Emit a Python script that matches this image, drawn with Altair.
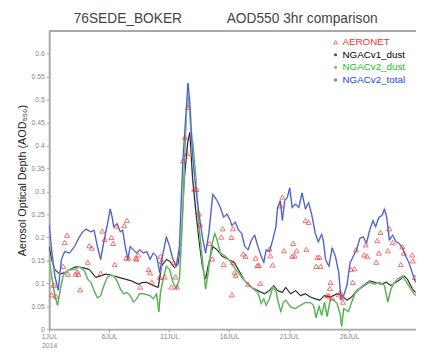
import altair as alt
import pandas as pd

# ---- data (day of July 2014, AOD at 550 nm) ----
blue_day = [1.00, 1.20, 1.47, 1.75, 2.02, 2.29, 2.70, 3.11, 3.52, 3.80, 4.07, 4.48, 4.74, 5.02, 5.29, 5.48,
            5.70, 5.92, 6.09, 6.25, 6.38, 6.66, 6.93, 7.12, 7.34, 7.56, 7.75, 8.02, 8.29, 8.56, 8.83, 9.14,
            9.41, 9.68, 9.95, 10.22, 10.44, 10.77, 11.04, 11.32, 11.59, 11.86, 12.14, 12.41, 12.57, 12.73,
            12.95, 13.22, 13.49, 13.77, 14.04, 14.31, 14.64, 15.00, 15.27, 15.54, 15.82, 16.09, 16.23, 16.52,
            16.79, 17.04, 17.31, 17.58, 17.86, 18.13, 18.40, 18.68, 18.89, 19.09, 19.36, 19.63, 19.90, 20.04,
            20.26, 20.44, 20.64, 20.85, 21.05, 21.26, 21.54, 21.81, 22.08, 22.36, 22.63, 22.90, 23.18, 23.44,
            23.71, 23.85, 24.04, 24.32, 24.59, 24.86, 25.14, 25.33, 25.55, 25.82, 26.09, 26.36, 26.63, 26.90,
            27.18, 27.45, 27.72, 28.00, 28.21, 28.49, 28.76, 28.95, 29.14, 29.36, 29.63, 29.90, 30.17, 30.45,
            30.72, 30.99, 31.27, 31.54]
blue_val = [0.228, 0.173, 0.116, 0.085, 0.152, 0.169, 0.166, 0.180, 0.201, 0.212, 0.218, 0.212, 0.216, 0.180, 0.152, 0.180,
            0.209, 0.237, 0.262, 0.244, 0.223, 0.230, 0.212, 0.216, 0.180, 0.152, 0.180, 0.173, 0.166, 0.173, 0.166, 0.169,
            0.152, 0.166, 0.159, 0.123, 0.159, 0.201, 0.180, 0.152, 0.137, 0.180, 0.365, 0.472, 0.536, 0.493,
            0.379, 0.308, 0.251, 0.201, 0.166, 0.209, 0.294, 0.280, 0.265, 0.244, 0.251, 0.237, 0.226, 0.233,
            0.216, 0.209, 0.180, 0.173, 0.194, 0.205, 0.180, 0.159, 0.145, 0.173, 0.169, 0.194, 0.223, 0.265,
            0.280, 0.237, 0.280, 0.287, 0.308, 0.265, 0.273, 0.265, 0.297, 0.262, 0.276, 0.248, 0.209, 0.190,
            0.207, 0.194, 0.152, 0.137, 0.177, 0.159, 0.123, 0.065, 0.073, 0.095, 0.145, 0.159, 0.173, 0.198,
            0.201, 0.187, 0.216, 0.237, 0.223, 0.244, 0.248, 0.262, 0.244, 0.194, 0.205, 0.191, 0.187, 0.177,
            0.159, 0.145, 0.123, 0.102]

black_day = [1.00, 1.20, 1.47, 1.88, 2.29, 2.70, 3.25, 3.80, 4.34, 4.88, 5.29, 5.70, 6.25, 6.79, 7.34, 7.88,
             8.42, 8.83, 9.14, 9.68, 10.09, 10.36, 10.77, 11.04, 11.45, 11.73, 12.00, 12.27, 12.55, 12.73,
             12.95, 13.22, 13.49, 13.77, 14.04, 14.31, 14.64, 15.00, 15.41, 15.95, 16.44, 16.76, 17.31, 17.86,
             18.40, 18.95, 19.36, 19.71, 20.04, 20.44, 20.72, 21.13, 21.54, 21.95, 22.36, 22.77, 23.18, 23.58,
             23.91, 24.45, 25.00, 25.41, 25.82, 26.22, 26.63, 27.18, 27.72, 28.13, 28.68, 29.09, 29.50, 29.90,
             30.31, 30.58, 30.86, 31.27, 31.54]
black_val = [0.180, 0.152, 0.130, 0.120, 0.123, 0.130, 0.136, 0.134, 0.130, 0.113, 0.116, 0.120, 0.117, 0.113, 0.109, 0.105,
             0.098, 0.102, 0.102, 0.095, 0.091, 0.137, 0.152, 0.148, 0.134, 0.141, 0.194, 0.330, 0.408, 0.429,
             0.330, 0.258, 0.194, 0.137, 0.109, 0.145, 0.180, 0.173, 0.159, 0.152, 0.145, 0.130, 0.105, 0.091,
             0.084, 0.077, 0.084, 0.095, 0.084, 0.080, 0.091, 0.077, 0.084, 0.073, 0.077, 0.070, 0.066, 0.063,
             0.073, 0.070, 0.077, 0.073, 0.063, 0.070, 0.084, 0.095, 0.105, 0.102, 0.098, 0.102, 0.095, 0.102,
             0.109, 0.116, 0.109, 0.088, 0.080]

green_day = [1.00, 1.20, 1.47, 1.70, 1.94, 2.16, 2.57, 3.11, 3.52, 3.93, 4.21, 4.48, 4.74, 5.02, 5.29, 5.56,
             5.84, 6.11, 6.38, 6.66, 6.93, 7.20, 7.48, 7.75, 8.02, 8.29, 8.51, 8.87, 9.41, 9.68, 9.95, 10.14,
             10.28, 10.50, 10.77, 11.04, 11.32, 11.59, 11.86, 12.08, 12.27, 12.46, 12.59, 12.81, 13.00, 13.22,
             13.49, 13.77, 14.04, 14.26, 14.53, 14.80, 15.00, 15.27, 15.68, 16.09, 16.44, 16.76, 17.17, 17.58,
             17.99, 18.40, 18.68, 18.89, 19.09, 19.36, 19.63, 19.90, 20.09, 20.31, 20.53, 20.72, 21.13, 21.54,
             21.95, 22.36, 22.77, 23.04, 23.25, 23.50, 23.72, 23.95, 24.17, 24.45, 24.73, 25.00, 25.27, 25.38,
             25.55, 25.95, 26.22, 26.49, 26.90, 27.31, 27.72, 28.13, 28.54, 28.95, 29.23, 29.50, 29.77, 30.04,
             30.45, 30.72, 31.13, 31.54]
green_val = [0.152, 0.116, 0.073, 0.052, 0.088, 0.116, 0.129, 0.130, 0.136, 0.127, 0.109, 0.102, 0.084, 0.068, 0.073, 0.095,
             0.113, 0.117, 0.116, 0.105, 0.088, 0.077, 0.080, 0.073, 0.059, 0.066, 0.077, 0.077, 0.073, 0.066, 0.077, 0.038,
             0.080, 0.109, 0.137, 0.130, 0.102, 0.088, 0.109, 0.223, 0.365, 0.479, 0.515, 0.436, 0.400, 0.330,
             0.223, 0.152, 0.088, 0.123, 0.180, 0.209, 0.194, 0.166, 0.159, 0.148, 0.134, 0.123, 0.109, 0.098,
             0.088, 0.080, 0.056, 0.066, 0.052, 0.066, 0.091, 0.084, 0.059, 0.038, 0.059, 0.063, 0.048, 0.045,
             0.052, 0.058, 0.058, 0.052, 0.025, 0.050, 0.030, 0.058, 0.028, 0.066, 0.063, 0.056, 0.031, 0.006,
             0.045, 0.038, 0.059, 0.077, 0.088, 0.095, 0.102, 0.098, 0.102, 0.095, 0.059, 0.088, 0.102, 0.109,
             0.116, 0.105, 0.088, 0.073]

aeronet_day = [1.20, 1.39, 1.56, 2.16, 2.29, 2.49, 2.57, 3.19, 3.33, 3.44, 3.58, 4.21, 4.34, 4.56, 5.29, 5.43,
               5.62, 6.19, 6.33, 6.46, 6.60, 7.26, 7.48, 7.42, 7.61, 8.21, 8.42, 8.29, 8.59, 9.27, 9.41, 9.54,
               10.28, 10.36, 10.22, 10.63, 11.18, 11.37, 11.53, 11.65, 12.14, 12.32, 12.49, 12.59, 13.09, 13.28,
               13.49, 13.58, 14.37, 14.59, 15.35, 15.46, 15.54, 16.23, 16.44, 16.31, 16.20, 16.36, 16.55, 17.17,
               17.37, 17.58, 18.21, 18.35, 18.48, 18.60, 19.36, 19.44, 19.63, 20.26, 20.44, 20.58, 21.26, 21.34,
               21.46, 21.62, 22.36, 22.44, 22.63, 23.26, 23.36, 23.53, 23.63, 24.18, 24.32, 24.40, 24.45, 24.59,
               25.14, 25.27, 25.41, 25.49, 26.17, 26.31, 26.45, 26.58, 27.26, 27.39, 27.51, 28.27, 28.35, 28.49,
               28.62, 29.23, 29.36, 29.63, 30.31, 30.45, 30.58, 31.27, 31.32, 31.48]
aeronet_val = [0.075, 0.096, 0.072, 0.137, 0.189, 0.205, 0.120, 0.120, 0.125, 0.120, 0.086, 0.146, 0.182, 0.177, 0.122, 0.214,
               0.196, 0.200, 0.187, 0.141, 0.225, 0.226, 0.237, 0.155, 0.155, 0.155, 0.162, 0.153, 0.092, 0.130, 0.123, 0.103,
               0.159, 0.148, 0.113, 0.114, 0.092, 0.145, 0.114, 0.092, 0.367, 0.418, 0.383, 0.484, 0.305, 0.305,
               0.251, 0.228, 0.187, 0.153, 0.201, 0.219, 0.141, 0.075, 0.123, 0.219, 0.200, 0.145, 0.117, 0.164,
               0.159, 0.098, 0.155, 0.139, 0.139, 0.100, 0.175, 0.160, 0.140, 0.269, 0.288, 0.171, 0.159, 0.187,
               0.160, 0.171, 0.237, 0.174, 0.233, 0.137, 0.157, 0.157, 0.137, 0.073, 0.073, 0.089, 0.102, 0.068,
               0.075, 0.080, 0.070, 0.059, 0.130, 0.102, 0.132, 0.173, 0.162, 0.184, 0.159, 0.146, 0.193, 0.166,
               0.211, 0.171, 0.219, 0.189, 0.141, 0.180, 0.166, 0.162, 0.149, 0.113]

legend_names = ["AERONET", "NGACv1_dust", "NGACv2_dust", "NGACv2_total"]
legend_colors = ["#ee3333", "#000000", "#22bb22", "#2244ee"]
legend_shapes = ["triangle-up", "circle", "circle", "circle"]

x_tick_days = [1, 6, 11, 16, 21, 26]
y_ticks = [round(i * 0.05, 2) for i in range(13)]

W, H = 374, 304
X_DOMAIN = [1, 31.58]
Y_DOMAIN = [0, 0.65]


def frame(day, val):
    return pd.DataFrame({"day": day, "aod": val})


xenc = alt.X(
    "day:Q",
    scale=alt.Scale(domain=X_DOMAIN, nice=False, zero=False),
    axis=alt.Axis(
        values=x_tick_days,
        labelExpr="datum.value == 1 ? ['1JUL', '2014'] : datum.value + 'JUL'",
        title=None, grid=False, domainColor="#a8a8a8", domainWidth=2,
        tickColor="#a8a8a8", tickSize=3, labelColor="#888888", labelFontSize=7,
        labelFont="Liberation Sans", labelPadding=1, labelFlush=False,
    ),
)
yenc = alt.Y(
    "aod:Q",
    scale=alt.Scale(domain=Y_DOMAIN, nice=False),
    axis=alt.Axis(
        values=y_ticks, format="~g", title="Aerosol Optical Depth (AOD₅₅₀)",
        grid=False, domainColor="#a8a8a8", domainWidth=2, tickColor="#a8a8a8",
        tickSize=3, labelColor="#888888", labelFontSize=7, labelFont="Liberation Sans",
        labelPadding=2, titleFont="Liberation Sans", titleFontSize=11,
        titleFontWeight="normal", titleColor="#222222", titlePadding=4,
    ),
)


def series_layers(day, val, color):
    df = frame(day, val)
    shadow = alt.Chart(df).mark_line(color="#c4c4c4", strokeWidth=1.8, clip=True).encode(x=xenc, y=yenc)
    line = alt.Chart(df).mark_line(color=color, strokeWidth=0.9, clip=True).encode(x=xenc, y=yenc)
    return [shadow, line]


layers = []
layers += series_layers(black_day, black_val, legend_colors[1])
layers += series_layers(green_day, green_val, legend_colors[2])
layers += series_layers(blue_day, blue_val, legend_colors[3])

aer = alt.Chart(frame(aeronet_day, aeronet_val)).mark_point(
    shape="triangle-up", filled=False, color=legend_colors[0], size=26, strokeWidth=1, clip=True
).encode(x=xenc, y=yenc)
layers.append(aer)

# top frame line
top = alt.Chart(pd.DataFrame({"a": [0]})).mark_rule(color="#a8a8a8", strokeWidth=2).encode(
    x=alt.value(0), x2=alt.value(W), y=alt.value(0)
)
layers.append(top)

# legend
leg_df = pd.DataFrame({"name": legend_names, "color": legend_colors, "shape": legend_shapes,
                       "i": list(range(len(legend_names)))})
leg_base = alt.Chart(leg_df).transform_calculate(py="11.5 + 12.8 * datum.i")
leg_sym = leg_base.transform_filter("datum.i > 0").mark_point(filled=True, size=10, strokeWidth=1).encode(
    x=alt.value(292), y=alt.Y("py:Q", scale=None),
    color=alt.Color("color:N", scale=None), shape=alt.Shape("shape:N", scale=None),
)
leg_tri = leg_base.transform_filter("datum.i == 0").mark_point(
    filled=False, size=16, strokeWidth=1, shape="triangle-up"
).encode(x=alt.value(292), y=alt.Y("py:Q", scale=None), color=alt.Color("color:N", scale=None))
leg_txt = leg_base.mark_text(align="left", baseline="middle", fontSize=10, font="Liberation Sans").encode(
    x=alt.value(299), y=alt.Y("py:Q", scale=None), text="name:N",
    color=alt.Color("color:N", scale=None),
)
layers += [leg_sym, leg_tri, leg_txt]

# title (two parts)
title_df = pd.DataFrame({"t": ["76SEDE_BOKER", "AOD550 3hr comparison"], "px": [25, 181]})
title = alt.Chart(title_df).mark_text(
    align="left", baseline="middle", fontSize=14, font="Liberation Sans", color="#444444"
).encode(x=alt.X("px:Q", scale=None), y=alt.value(-12), text="t:N")
layers.append(title)

chart = alt.layer(*layers).properties(
    width=W, height=H,
    padding={"left": 42, "top": 20, "right": 0, "bottom": 26},
    autosize=alt.AutoSizeParams(type="none"),
).configure_view(stroke=None).configure(background="white")

chart.save("out.html", embed_options={"renderer": "svg", "actions": False})
